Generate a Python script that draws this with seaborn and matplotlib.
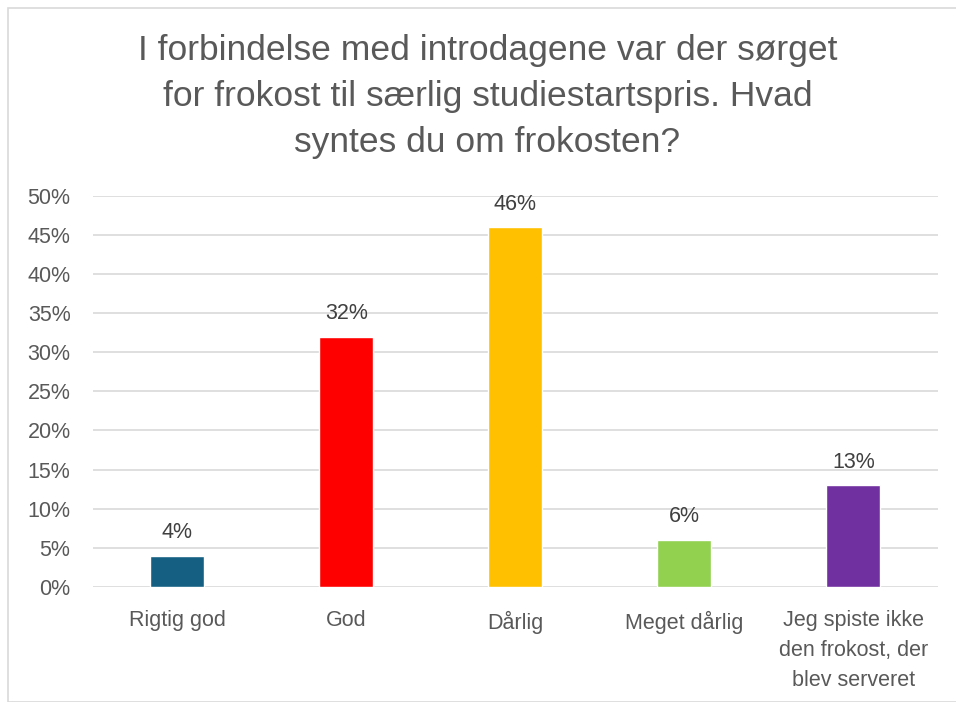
import numpy as np
import pandas as pd
import matplotlib
matplotlib.use("Agg")
import matplotlib.pyplot as plt
import seaborn as sns
from matplotlib.patches import Rectangle
from matplotlib.ticker import PercentFormatter

categories = ["Rigtig god", "God", "Dårlig", "Meget dårlig",
              "Jeg spiste ikke\nden frokost, der\nblev serveret"]
shares = [0.04, 0.32, 0.46, 0.06, 0.13]
bar_colors = ["#156082", "#FF0000", "#FFC000", "#92D050", "#7030A0"]
title = ("I forbindelse med introdagene var der sørget\n"
         "for frokost til særlig studiestartspris. Hvad\n"
         "syntes du om frokosten?")

sns.set_style("white")
plt.rcParams['font.family'] = ['Liberation Sans', 'DejaVu Sans']
text_color = "#595959"

df = pd.DataFrame({"Kategori": categories, "Andel": shares})

fig = plt.figure(figsize=(9.56, 7.02), dpi=100)
ax = fig.add_axes([0.097, 0.164, 0.884, 0.557])

sns.barplot(data=df, x="Kategori", y="Andel", hue="Kategori",
            palette=bar_colors, legend=False, width=0.32,
            saturation=1, ax=ax)

ax.set_ylim(0, 0.5)
ax.set_xlim(-0.5, 4.5)
ax.set_yticks(np.arange(0, 0.51, 0.05))
ax.yaxis.set_major_formatter(PercentFormatter(1.0, decimals=0))
ax.grid(axis="y", color="#D9D9D9", linewidth=1.2)
ax.set_axisbelow(True)
sns.despine(ax=ax, left=True, bottom=True)
ax.set_xlabel("")
ax.set_ylabel("")
ax.tick_params(axis="both", length=0, labelsize=15.5, labelcolor=text_color)
ax.tick_params(axis="y", pad=16)
ax.tick_params(axis="x", pad=17)
for lbl in ax.get_xticklabels():
    lbl.set_linespacing(1.55)

for cont in ax.containers:
    ax.bar_label(cont, labels=[f"{v * 100:.0f}%" for v in cont.datavalues],
                 padding=9, fontsize=15.5, color="#404040")

fig.text(0.51, 0.952, title, ha="center", va="top", fontsize=25.5,
         color=text_color, linespacing=1.5)

fig.patches.append(Rectangle((8 / 956, 0), 1.1, 1 - 8 / 702,
                             transform=fig.transFigure, fill=False,
                             edgecolor="#D9D9D9", linewidth=1.2))

fig.savefig("out.png", dpi=100)
